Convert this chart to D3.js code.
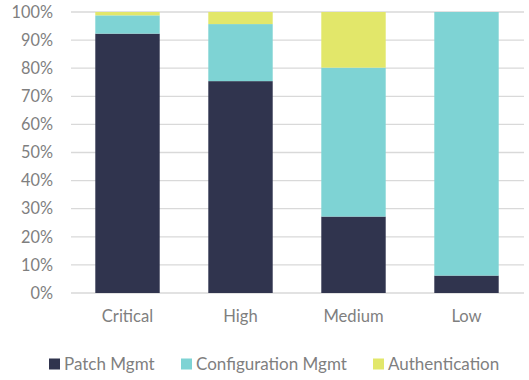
<!DOCTYPE html>
<html>
<head>
<meta charset="utf-8">
<script src="https://cdn.jsdelivr.net/npm/d3@7"></script>
<style>
  body { margin: 0; background: #fff; }
  text { font-family: Lato, "Open Sans", sans-serif; fill: #7f7f7f; }
</style>
</head>
<body>
<div id="wrapper"></div>
<script>
// data
const categories = ['Critical', 'High', 'Medium', 'Low']
const seriesNames = ['Patch Mgmt', 'Configuration Mgmt', 'Authentication']
const patchMgmt = [92.3, 75.4, 27.2, 6.2]
const configMgmt = [6.5, 20.3, 53.0, 93.8]
const authentication = [1.2, 4.3, 19.8, 0]
const yTicks = [0, 10, 20, 30, 40, 50, 60, 70, 80, 90, 100]
const colors = ['#30344e', '#7ed3d4', '#e2e76a']

const table = categories.map((c, i) => ({
  category: c,
  'Patch Mgmt': patchMgmt[i],
  'Configuration Mgmt': configMgmt[i],
  'Authentication': authentication[i],
}))

const dimensions = {
  width: 529,
  height: 380,
  margin: { top: 12, right: 6, bottom: 87, left: 71 },
}
dimensions.boundedWidth = dimensions.width - dimensions.margin.left - dimensions.margin.right
dimensions.boundedHeight = dimensions.height - dimensions.margin.top - dimensions.margin.bottom

const wrapper = d3.select('#wrapper')
  .append('svg')
  .attr('width', dimensions.width)
  .attr('height', dimensions.height)

const bounds = wrapper.append('g')
  .attr('transform', `translate(${dimensions.margin.left},${dimensions.margin.top})`)

const xScale = d3.scaleBand()
  .domain(categories)
  .range([0, 452])
  .paddingInner(0.43)
  .paddingOuter(0.215)

const yScale = d3.scaleLinear()
  .domain([0, 100])
  .range([dimensions.boundedHeight, 0])

// gridlines
bounds.append('g')
  .selectAll('line')
  .data(yTicks)
  .join('line')
  .attr('x1', 0)
  .attr('x2', 453)
  .attr('y1', d => yScale(d))
  .attr('y2', d => yScale(d))
  .attr('stroke', '#d9d9d9')
  .attr('stroke-width', 1.3)

const stack = d3.stack().keys(seriesNames)(table)

bounds.append('g')
  .selectAll('g')
  .data(stack)
  .join('g')
  .attr('fill', (d, i) => colors[i])
  .selectAll('rect')
  .data(d => d)
  .join('rect')
  .attr('x', d => xScale(d.data.category))
  .attr('width', xScale.bandwidth())
  .attr('y', d => yScale(d[1]))
  .attr('height', d => yScale(d[0]) - yScale(d[1]))

// y axis
const yAxis = bounds.append('g')
  .call(d3.axisLeft(yScale).tickValues(yTicks).tickFormat(d => d + '%').tickSize(0).tickPadding(18))
yAxis.select('.domain').remove()
yAxis.selectAll('text').style('font-size', '16.3px').attr('fill', '#7f7f7f')

// x axis
const xAxis = bounds.append('g')
  .attr('transform', `translate(0,${dimensions.boundedHeight})`)
  .call(d3.axisBottom(xScale).tickSize(0).tickPadding(17))
xAxis.select('.domain').remove()
xAxis.selectAll('text').style('font-size', '16.6px').attr('fill', '#7f7f7f')

// legend
const legendX = [49, 181, 373]
const legend = wrapper.append('g')
  .attr('transform', 'translate(0,364)')
const items = legend.selectAll('g')
  .data(seriesNames)
  .join('g')
  .attr('transform', (d, i) => `translate(${legendX[i]},0)`)
items.append('rect')
  .attr('y', -5.5)
  .attr('width', 11)
  .attr('height', 11)
  .attr('fill', (d, i) => colors[i])
items.append('text')
  .attr('x', 15)
  .attr('dy', '0.35em')
  .style('font-size', '17px')
  .text(d => d)
</script>
</body>
</html>
